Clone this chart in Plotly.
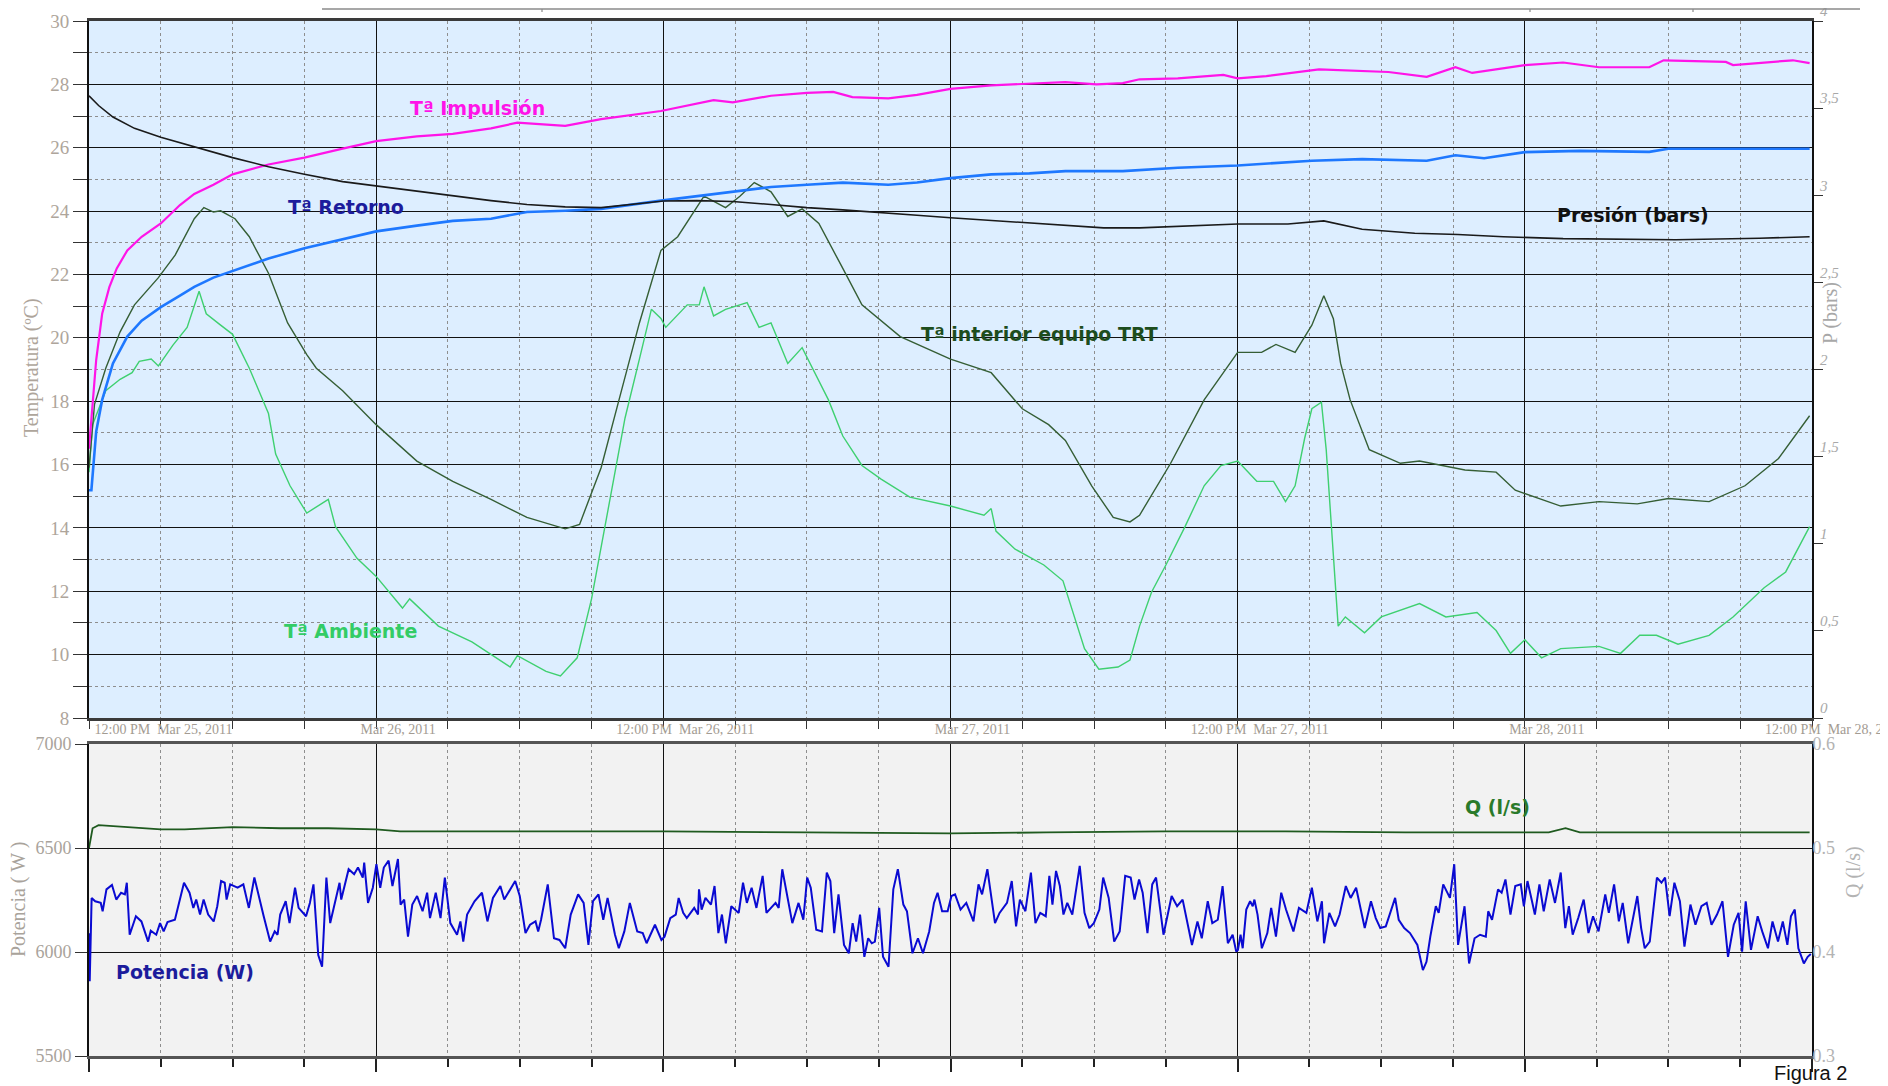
import pandas as pd
import plotly.graph_objects as go

START = pd.Timestamp("2011-03-25 12:00")

# ---------------- data (hours since 12:00 PM Mar 25, 2011) ----------------
imp_h = [0.0, 0.15, 0.3, 0.55, 0.85, 1.16, 1.6, 2.2, 3.0, 3.8, 4.4, 5.2, 6.0, 7.5, 9.0, 10.6, 12.0, 13.7, 15.2,
         16.8, 17.9, 19.9, 21.4, 23.9, 26.1, 26.9, 28.5, 30.0, 31.1, 31.9, 33.4, 34.6, 36.0, 37.7, 39.3, 40.8,
         42.1, 43.2, 43.9, 45.5, 47.4, 48.0, 49.2, 51.4, 54.3, 55.9, 57.1, 57.8, 60.0, 61.6, 63.1, 65.2, 65.8,
         68.4, 68.7, 71.2, 71.9]
imp_t = [16.5, 18.0, 19.3, 20.76, 21.6, 22.19, 22.76, 23.19, 23.61, 24.19, 24.54, 24.83, 25.16, 25.47, 25.69,
         25.97, 26.21, 26.36, 26.44, 26.61, 26.79, 26.69, 26.9, 27.16, 27.5, 27.43, 27.64, 27.73, 27.76, 27.6,
         27.56, 27.67, 27.86, 27.97, 28.01, 28.07, 28.0, 28.04, 28.16, 28.19, 28.3, 28.19, 28.26, 28.47, 28.39,
         28.24, 28.54, 28.36, 28.61, 28.69, 28.54, 28.54, 28.76, 28.71, 28.61, 28.76, 28.67]

ret_h = [0.0, 0.1, 0.3, 0.55, 1.0, 1.6, 2.2, 3.0, 3.8, 4.4, 5.2, 6.0, 7.5, 9.0, 10.6, 12.0, 13.7, 15.2, 16.8,
         18.3, 19.9, 21.4, 23.9, 26.9, 28.5, 30.0, 31.5, 33.4, 34.6, 36.0, 37.7, 39.3, 40.8, 43.2, 45.5, 48.0,
         51.1, 53.2, 55.9, 57.1, 58.3, 60.0, 62.3, 65.2, 66.0, 68.7, 71.9]
ret_t = [15.19, 15.19, 17.04, 18.04, 19.19, 20.04, 20.54, 20.97, 21.33, 21.61, 21.9, 22.11, 22.5, 22.83, 23.11,
         23.36, 23.54, 23.69, 23.76, 23.97, 24.01, 24.07, 24.33, 24.61, 24.76, 24.83, 24.9, 24.83, 24.9, 25.04,
         25.16, 25.19, 25.26, 25.26, 25.37, 25.44, 25.59, 25.64, 25.59, 25.76, 25.67, 25.86, 25.9, 25.87, 25.97,
         25.97, 25.97]

pre_h = [0.0, 0.4, 1.0, 1.9, 3.0, 4.4, 6.0, 7.5, 9.0, 10.6, 12.0, 13.7, 15.2, 16.8, 18.3, 19.9, 21.4, 24.0, 25.4,
         26.9, 28.5, 30.0, 31.5, 33.1, 34.6, 36.0, 37.7, 39.3, 40.8, 42.4, 43.9, 46.3, 48.0, 50.1, 51.6, 53.2,
         55.4, 57.2, 59.1, 61.6, 66.3, 69.8, 71.9]
pre_bar = [3.571, 3.515, 3.449, 3.384, 3.333, 3.280, 3.216, 3.164, 3.120, 3.078, 3.053, 3.020, 2.995, 2.969,
           2.947, 2.933, 2.929, 2.967, 2.969, 2.964, 2.947, 2.929, 2.916, 2.902, 2.885, 2.871, 2.856, 2.838,
           2.825, 2.813, 2.813, 2.824, 2.835, 2.835, 2.853, 2.805, 2.782, 2.775, 2.762, 2.751, 2.745, 2.753, 2.762]

trt_h = [0.0, 0.23, 0.7, 1.3, 1.9, 2.9, 3.6, 4.4, 4.8, 5.2, 5.5, 6.1, 6.7, 7.5, 8.3, 9.1, 9.5, 10.6, 12.0, 13.7,
         15.2, 16.8, 18.3, 19.9, 20.5, 21.4, 22.2, 23.0, 23.9, 24.6, 25.7, 26.6, 27.2, 27.8, 28.5, 29.2, 29.8,
         30.5, 31.5, 32.3, 33.9, 36.0, 37.7, 39.0, 40.1, 40.8, 41.9, 42.8, 43.5, 43.9, 45.2, 46.6, 48.0, 49.0,
         49.6, 50.4, 51.1, 51.6, 52.0, 52.3, 52.7, 53.5, 54.8, 55.6, 57.5, 58.8, 59.6, 61.5, 63.1, 64.7, 66.0,
         67.7, 69.2, 70.6, 71.9]
trt_t = [15.9, 17.9, 19.04, 20.19, 21.04, 21.9, 22.61, 23.76, 24.11, 23.97, 24.01, 23.76, 23.19, 22.04, 20.47,
         19.47, 19.04, 18.33, 17.26, 16.11, 15.47, 14.9, 14.33, 13.97, 14.11, 15.9, 18.19, 20.47, 22.76, 23.19,
         24.47, 24.11, 24.47, 24.9, 24.61, 23.83, 24.07, 23.61, 22.19, 21.04, 20.04, 19.33, 18.9, 17.76, 17.26,
         16.76, 15.33, 14.33, 14.19, 14.4, 16.04, 18.04, 19.54, 19.54, 19.79, 19.54, 20.4, 21.33, 20.6, 19.2,
         18.04, 16.47, 16.04, 16.11, 15.83, 15.76, 15.19, 14.69, 14.83, 14.76, 14.93, 14.83, 15.33, 16.19, 17.54]

amb_h = [0.0, 0.15, 0.7, 1.3, 1.8, 2.1, 2.6, 2.9, 3.5, 4.1, 4.6, 4.9, 5.5, 6.0, 6.7, 7.5, 7.8, 8.4, 9.1, 10.0,
         10.3, 11.2, 12.0, 13.1, 13.4, 14.6, 16.0, 17.6, 17.9, 19.1, 19.7, 20.4, 21.0, 21.6, 22.4, 23.0, 23.5,
         23.9, 24.1, 25.0, 25.5, 25.7, 26.1, 26.6, 27.5, 28.0, 28.5, 29.2, 29.8, 30.9, 31.5, 32.3, 33.1, 34.3,
         36.0, 37.4, 37.7, 37.9, 38.7, 39.9, 40.7, 41.6, 42.2, 43.0, 43.5, 43.9, 44.4, 45.0, 45.8, 46.6, 47.3,
         48.0, 48.8, 49.5, 50.0, 50.4, 50.8, 51.1, 51.5, 51.7, 52.2, 52.5, 53.3, 54.0, 55.6, 56.7, 58.0, 58.8,
         59.4, 60.0, 60.7, 61.5, 63.1, 64.0, 64.8, 65.5, 66.4, 67.7, 68.7, 70.0, 70.9, 71.9]
amb_t = [15.76, 17.26, 18.33, 18.69, 18.9, 19.26, 19.33, 19.11, 19.76, 20.33, 21.47, 20.76, 20.4, 20.11, 19.04,
         17.61, 16.33, 15.33, 14.47, 14.9, 14.04, 13.04, 12.47, 11.47, 11.76, 10.9, 10.4, 9.61, 9.97, 9.47, 9.33,
         9.9, 11.76, 14.19, 17.47, 19.33, 20.9, 20.61, 20.33, 21.04, 21.04, 21.61, 20.69, 20.9, 21.11, 20.33,
         20.47, 19.19, 19.69, 18.04, 16.9, 15.97, 15.54, 14.97, 14.69, 14.4, 14.61, 13.9, 13.33, 12.83, 12.33,
         10.19, 9.54, 9.61, 9.83, 10.9, 11.97, 12.83, 14.04, 15.33, 15.97, 16.11, 15.47, 15.47, 14.83, 15.33,
         16.83, 17.76, 17.97, 16.47, 10.9, 11.19, 10.69, 11.19, 11.61, 11.19, 11.33, 10.76, 10.04, 10.47, 9.9,
         10.19, 10.26, 10.04, 10.61, 10.61, 10.33, 10.61, 11.19, 12.11, 12.61, 14.04]

pot_h = [0.0, 0.03, 0.11,
         0.26, 0.49, 0.57, 0.73, 0.96, 1.14, 1.34, 1.5, 1.58, 1.7, 1.96, 2.19, 2.47, 2.58, 2.81, 2.97, 3.12, 3.28,
         3.59, 3.97, 4.2, 4.36, 4.48, 4.64, 4.79, 4.98, 5.21, 5.36, 5.52, 5.67, 5.75, 5.9, 6.21, 6.45, 6.68, 6.91,
         7.07, 7.3, 7.57, 7.76, 7.88, 7.99, 8.22, 8.38, 8.61, 8.76, 9.07, 9.23, 9.38, 9.58, 9.74, 9.92, 10.08,
         10.47, 10.54, 10.85, 11.08, 11.24, 11.44, 11.5, 11.66, 11.86, 12.01, 12.17, 12.32, 12.52, 12.68, 12.91,
         13.02, 13.17, 13.33, 13.51, 13.71, 13.94, 14.13, 14.25, 14.49, 14.69, 14.87, 15.1, 15.38, 15.52, 15.64,
         15.8, 16.11, 16.42, 16.65, 16.88, 17.19, 17.35, 17.81, 18.0, 18.24, 18.43, 18.66, 18.77, 18.89, 19.17,
         19.43, 19.66, 19.9, 20.13, 20.44, 20.67, 20.87, 21.06, 21.29, 21.49, 21.67, 21.98, 22.14, 22.37, 22.6,
         22.91, 23.14, 23.3, 23.65, 23.92,
         24.05, 24.29, 24.52, 24.64, 24.83, 24.98, 25.29, 25.45, 25.49, 25.6, 25.76, 25.99, 26.14, 26.3, 26.45,
         26.61, 26.84, 27.15, 27.33, 27.49, 27.69, 27.89, 28.15, 28.31, 28.69, 28.82, 28.97, 29.16, 29.39, 29.65,
         29.85, 30.01, 30.16, 30.39, 30.63, 30.83, 30.98, 31.14, 31.32, 31.55, 31.75, 31.91, 32.06, 32.22, 32.4,
         32.56, 32.71, 32.84, 33.02, 33.18, 33.41, 33.61, 33.8, 34.03, 34.18, 34.41, 34.64, 34.85, 35.11, 35.31,
         35.46, 35.65, 35.88, 36.04, 36.19, 36.42, 36.66, 36.96, 37.17, 37.32, 37.54, 37.86, 38.05, 38.36, 38.56,
         38.74, 38.9, 39.13, 39.36, 39.55, 39.75, 39.98, 40.13, 40.26, 40.41, 40.57, 40.72, 40.88, 41.09, 41.4,
         41.6, 41.8, 41.99, 42.22, 42.38, 42.61, 42.84, 43.07, 43.3, 43.53, 43.69, 43.88, 44.03, 44.23, 44.43,
         44.59, 44.9, 45.24, 45.47, 45.7, 46.09, 46.32, 46.5, 46.75, 46.94, 47.17, 47.37, 47.59, 47.79, 47.94,
         48.01, 48.12, 48.21, 48.36, 48.52, 48.63, 48.7, 48.83, 49.01, 49.24, 49.4, 49.6, 49.82, 50.02, 50.33,
         50.56, 50.87, 51.1, 51.33, 51.52, 51.61, 51.83, 52.07, 52.26, 52.52, 52.72, 52.95, 53.31, 53.57, 53.77,
         53.96, 54.19, 54.42, 54.58, 54.73, 54.96, 55.2, 55.51, 55.74, 55.89, 56.05, 56.28, 56.4, 56.59, 56.87,
         57.05, 57.21, 57.48, 57.67, 57.9, 58.13, 58.37, 58.47, 58.63, 58.88, 59.03, 59.19, 59.4, 59.6, 59.83,
         59.96, 60.11, 60.3, 60.42, 60.61, 60.79, 61.04, 61.26, 61.5, 61.69, 61.84, 62.0, 62.23, 62.46, 62.66,
         62.85, 63.08, 63.36, 63.51, 63.73, 63.93, 64.09, 64.32, 64.47, 64.7, 64.86, 65.01, 65.22, 65.52, 65.71,
         65.86, 66.05, 66.25, 66.48, 66.67, 66.92, 67.13, 67.38, 67.6, 67.8, 68.03, 68.26, 68.49, 68.73, 68.93,
         69.08, 69.23, 69.45, 69.73, 69.92, 70.16, 70.35, 70.58, 70.78, 70.97, 71.12, 71.28, 71.43, 71.66, 71.82,
         71.95]
pot_w = [6090, 5860, 6260,
         6244, 6236, 6196, 6301, 6322, 6252, 6285, 6277, 6333, 6083, 6172, 6147, 6050, 6102, 6083, 6139, 6099, 6144,
         6155, 6333, 6285, 6212, 6252, 6180, 6252, 6180, 6147, 6220, 6341, 6333, 6252, 6325, 6309, 6325, 6212, 6358,
         6277, 6172, 6050, 6099, 6083, 6180, 6244, 6139, 6309, 6212, 6172, 6236, 6325, 5985, 5929, 6358, 6139,
         6333, 6252, 6398, 6374, 6406, 6358, 6430, 6236, 6309, 6422, 6309, 6406, 6439, 6317, 6447,
         6228, 6252, 6074, 6228, 6269, 6196, 6285, 6163, 6285, 6163, 6358, 6139, 6083, 6147, 6050,
         6180, 6244, 6285, 6147, 6260, 6317, 6252, 6341, 6269, 6091, 6131, 6147, 6099, 6155, 6325,
         6066, 6058, 6018, 6180, 6277, 6236, 6034, 6244, 6277, 6155, 6260, 6083, 6018, 6099, 6236,
         6099, 6091, 6042, 6131, 6058,
         6074, 6163, 6180, 6260, 6188, 6163, 6212, 6180, 6301, 6204, 6260, 6228, 6317, 6091, 6180,
         6042, 6220, 6188, 6333, 6236, 6309, 6212, 6366, 6188, 6236, 6212, 6398, 6277, 6139, 6236,
         6155, 6358, 6309, 6107, 6099, 6382, 6341, 6091, 6277, 6034, 5994, 6139, 6050, 6180, 5977,
         6066, 6042, 6050, 6212, 5977, 5929, 6301, 6398, 6228, 6196, 5994, 6066, 5994, 6099, 6236,
         6285, 6196, 6196, 6269, 6277, 6204, 6236, 6147, 6325, 6277, 6398, 6139, 6188, 6236, 6341,
         6123, 6252, 6196, 6382, 6139, 6188, 6172, 6366, 6228, 6390, 6317, 6180, 6236, 6180, 6414,
         6188, 6115, 6139, 6204, 6358, 6260, 6050, 6099, 6366, 6358, 6252, 6349, 6285, 6091, 6325,
         6358, 6083, 6269, 6220, 6252, 6034, 6147, 6066, 6244, 6139, 6155, 6317, 6042, 6083, 6002,
         6010, 6083, 6018, 6204, 6244, 6220, 6252, 6180, 6018, 6091, 6212, 6074, 6285, 6204, 6099,
         6212, 6188, 6309, 6147, 6244, 6042, 6188, 6123, 6180, 6317, 6260, 6309, 6115, 6244, 6163,
         6115, 6123, 6204, 6260, 6155, 6115, 6091, 6034, 5913, 5953, 6074, 6220, 6188, 6325, 6260,
         6422, 6034, 6220, 5945, 6066, 6083, 6074, 6196, 6155, 6301, 6285, 6349, 6180, 6317, 6325,
         6220, 6341, 6244, 6180, 6325, 6196, 6349, 6236, 6382, 6115, 6220, 6083, 6163, 6252, 6091,
         6172, 6099, 6277, 6188, 6325, 6147, 6236, 6042, 6139, 6269, 6115, 6018, 6050, 6358, 6333,
         6358, 6172, 6333, 6244, 6026, 6228, 6131, 6220, 6236, 6131, 6180, 6244, 5977, 6131, 6188,
         6002, 6244, 6010, 6172, 6099, 6018, 6147, 6050, 6147, 6034, 6172, 6204, 6018, 5945, 5977,
         5990]

q_h = [0.0, 0.15, 0.4, 1.0, 2.0, 3.0, 4.0, 5.0, 6.0, 8.0, 10.0, 12.0, 13.0, 16.0, 20.0, 24.0, 30.0, 36.0, 40.0,
       45.0, 50.0, 55.0, 61.0, 61.7, 62.3, 66.0, 71.9]
q_ls = [0.500, 0.519, 0.522, 0.521, 0.519, 0.518, 0.518, 0.519, 0.520, 0.519, 0.519, 0.518, 0.516, 0.516, 0.516,
        0.516, 0.515, 0.514, 0.515, 0.516, 0.516, 0.515, 0.515, 0.519, 0.515, 0.515, 0.515]

x_tick_hours = [0, 12, 24, 36, 48, 60, 72]
x_tick_text = ["\u00a0" * 30 + "12:00 PM\u00a0\u00a0Mar 25, 2011", "Mar 26, 2011", "12:00 PM\u00a0\u00a0Mar 26, 2011",
               "Mar 27, 2011", "12:00 PM\u00a0\u00a0Mar 27, 2011", "Mar 28, 2011", "12:00 PM\u00a0\u00a0Mar 28, 2011"]
p_tick_vals = [0, 0.5, 1, 1.5, 2, 2.5, 3, 3.5, 4]
p_tick_text = ["0", "0,5", "1", "1,5", "2", "2,5", "3", "3,5", "4"]

for a, b in [(imp_h, imp_t), (ret_h, ret_t), (pre_h, pre_bar), (trt_h, trt_t), (amb_h, amb_t),
             (pot_h, pot_w), (q_h, q_ls)]:
    assert len(a) == len(b), (len(a), len(b))


def tt(hours):
    return [START + pd.Timedelta(hours=h) for h in hours]


# ---------------- layout geometry (page body has an 8 px margin) ----------------
OFF = 8
W, H = 1888 - OFF, 1086 - OFF
ML, MR, MT, MB = 89 - OFF, 76, 21 - OFF, 30
PW, PH = W - ML - MR, H - MT - MB
TOP_DOM = [(H - MB - (718 - OFF)) / PH, 1.0]
BOT_DOM = [0.0, (H - MB - (744 - OFF)) / PH]


def px(x, y):
    """screen pixel -> paper fraction"""
    return ((x - OFF) - ML) / PW, (H - MB - (y - OFF)) / PH


X0, X1 = START, START + pd.Timedelta(hours=72)
THREE_H = 3 * 3600 * 1000

fig = go.Figure()
fig.add_trace(go.Scatter(x=tt(amb_h), y=amb_t, mode="lines", line=dict(color="#3fd070", width=1.4),
                         xaxis="x", yaxis="y", name="Tª Ambiente"))
fig.add_trace(go.Scatter(x=tt(trt_h), y=trt_t, mode="lines", line=dict(color="#355e35", width=1.4),
                         xaxis="x", yaxis="y", name="Tª interior equipo TRT"))
fig.add_trace(go.Scatter(x=tt(ret_h), y=ret_t, mode="lines", line=dict(color="#1e78ff", width=2.6),
                         xaxis="x", yaxis="y", name="Tª Retorno"))
fig.add_trace(go.Scatter(x=tt(imp_h), y=imp_t, mode="lines", line=dict(color="#ff14e8", width=2.2),
                         xaxis="x", yaxis="y", name="Tª Impulsión"))
fig.add_trace(go.Scatter(x=tt(pre_h), y=pre_bar, mode="lines", line=dict(color="#1a1a1a", width=1.6),
                         xaxis="x", yaxis="y2", name="Presión (bars)"))
fig.add_trace(go.Scatter(x=tt(pot_h), y=pot_w, mode="lines", line=dict(color="#0a0ad2", width=2.0),
                         xaxis="x2", yaxis="y3", name="Potencia (W)"))
fig.add_trace(go.Scatter(x=tt(q_h), y=q_ls, mode="lines", line=dict(color="#1f5a1f", width=1.8),
                         xaxis="x2", yaxis="y4", name="Q (l/s)"))

serif = "Liberation Serif"
grid_minor = dict(showgrid=True, gridcolor="#8e8e8e", griddash="dot", gridwidth=1)

fig.update_layout(
    template="none",
    width=W, height=H,
    margin=dict(l=ML, r=MR, t=MT, b=MB, pad=0),
    paper_bgcolor="white", plot_bgcolor="rgba(0,0,0,0)",
    showlegend=False,
    xaxis=dict(domain=[0, 1], anchor="y", type="date", range=[X0, X1], automargin=False,
               tickmode="array", tickvals=tt(x_tick_hours), ticktext=x_tick_text,
               showgrid=True, gridcolor="#111111", gridwidth=1.4,
               ticks="outside", ticklen=8, tickcolor="#333333", tickwidth=1.4,
               minor=dict(tick0=X0, dtick=THREE_H, ticks="outside", ticklen=8, tickcolor="#333333",
                          tickwidth=1.4, **grid_minor),
               showline=True, linecolor="#3a3a3a", linewidth=2.5, mirror=True, zeroline=False,
               tickfont=dict(family=serif, size=14, color="#a39b92"),
               ticklabelshift=22, ticklabelstandoff=-12, ticklabeloverflow="allow"),
    yaxis=dict(domain=TOP_DOM, anchor="x", range=[8, 30], automargin=False,
               tickmode="linear", tick0=8, dtick=2,
               showgrid=True, gridcolor="#111111", gridwidth=1.4,
               minor=dict(dtick=1, ticks="outside", ticklen=14, tickcolor="#333333", tickwidth=1.4, **grid_minor),
               ticks="outside", ticklen=14, tickcolor="#333333", tickwidth=1.4,
               showline=True, linecolor="#111111", linewidth=2, zeroline=False,
               tickfont=dict(family=serif, size=19, color="#aea59b")),
    yaxis2=dict(overlaying="y", side="right", anchor="x", range=[0, 4], automargin=False,
                tickmode="array", tickvals=p_tick_vals, ticktext=p_tick_text,
                showgrid=False, zeroline=False,
                ticks="outside", ticklen=9, tickcolor="#333333", tickwidth=1.4,
                showline=True, linecolor="#111111", linewidth=2,
                tickfont=dict(family=serif, size=15, color="#a8a8a8", style="italic"),
                ticklabelshift=-10, ticklabelstandoff=-6, ticklabeloverflow="allow"),
    xaxis2=dict(domain=[0, 1], anchor="y3", type="date", range=[X0, X1], automargin=False,
                tickmode="array", tickvals=tt(x_tick_hours), showticklabels=False,
                showgrid=True, gridcolor="#111111", gridwidth=1.4,
                ticks="outside", ticklen=13, tickcolor="#222222", tickwidth=1.6,
                minor=dict(tick0=X0, dtick=THREE_H, ticks="outside", ticklen=8, tickcolor="#222222",
                           tickwidth=1.6, **grid_minor),
                showline=True, linecolor="#555555", linewidth=3, mirror=True, zeroline=False),
    yaxis3=dict(domain=BOT_DOM, anchor="x2", range=[5500, 7000], automargin=False,
                tickmode="linear", tick0=5500, dtick=500,
                showgrid=True, gridcolor="#111111", gridwidth=1.4,
                ticks="outside", ticklen=12, tickcolor="#333333", tickwidth=1.4,
                showline=True, linecolor="#111111", linewidth=2, zeroline=False,
                tickfont=dict(family=serif, size=18, color="#a9a39b")),
    yaxis4=dict(overlaying="y3", side="right", anchor="x2", range=[0.3, 0.6], automargin=False,
                tickmode="linear", tick0=0.3, dtick=0.1, tickformat=".1f",
                showgrid=False, zeroline=False, ticks="",
                showline=True, linecolor="#111111", linewidth=2,
                tickfont=dict(family=serif, size=18, color="#b3b3b3"),
                ticklabelstandoff=-5, ticklabeloverflow="allow"),
)

# panel backgrounds
fig.add_shape(type="rect", xref="x domain", yref="y domain", x0=0, x1=1, y0=0, y1=1,
              fillcolor="#ddeeff", line_width=0, layer="below")
fig.add_shape(type="rect", xref="x2 domain", yref="y3 domain", x0=0, x1=1, y0=0, y1=1,
              fillcolor="#f2f2f2", line_width=0, layer="below")

# faint rule above the top panel
lx0, ly = px(322, 9)
lx1, _ = px(1860, 9)
fig.add_shape(type="line", xref="paper", yref="paper", x0=lx0, x1=lx1, y0=ly, y1=ly,
              line=dict(color="#8a8a8a", width=1.5))
for tx in (542, 1530, 1693):
    a, y0 = px(tx, 9)
    _, y1 = px(tx, 12)
    fig.add_shape(type="line", xref="paper", yref="paper", x0=a, x1=a, y0=y0, y1=y1,
                  line=dict(color="#8a8a8a", width=1.2))

bold = "DejaVu Sans"
labels = [
    ("Tª Impulsión", 477, 108, "#ff14e8"),
    ("Tª Retorno", 346, 207, "#1c1c9c"),
    ("Presión (bars)", 1633, 215, "#111111"),
    ("Tª interior equipo TRT", 1039, 334, "#1d4d1d"),
    ("Tª Ambiente", 350, 631, "#33cc66"),
    ("Q (l/s)", 1497, 807, "#2a7a2a"),
    ("Potencia (W)", 185, 972, "#1c1c9c"),
]
for text, x, y, c in labels:
    ax, ay = px(x, y)
    fig.add_annotation(text=text, x=ax, y=ay, xref="paper", yref="paper", showarrow=False,
                       xanchor="center", yanchor="middle",
                       font=dict(family=bold, size=19, color=c, weight="bold"))

titles = [
    ("Temperatura (ºC)", 31, 368, "#aea59b"),
    ("P (bars)", 1830, 313, "#a8a8a8"),
    ("Potencia ( W )", 18, 900, "#a9a39b"),
    ("Q (l/s)", 1853, 872, "#b3b3b3"),
]
for text, x, y, c in titles:
    ax, ay = px(x, y)
    fig.add_annotation(text=text, x=ax, y=ay, xref="paper", yref="paper", showarrow=False,
                       textangle=-90, xanchor="center", yanchor="middle",
                       font=dict(family=serif, size=20, color=c))

fx, fy = px(1810, 1073)
fig.add_annotation(text="Figura 2", x=fx, y=fy, xref="paper", yref="paper", showarrow=False,
                   xanchor="center", yanchor="middle",
                   font=dict(family="Liberation Sans", size=20, color="#111111"))

fig.write_html("out.html")
